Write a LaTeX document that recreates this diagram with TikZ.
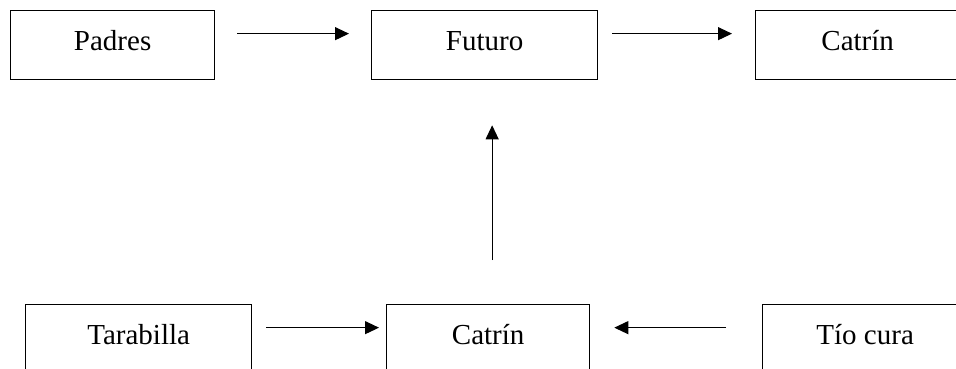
\documentclass[tikz,border=0pt]{standalone}
\usepackage{fontspec}
\setmainfont{Liberation Serif}
\usetikzlibrary{arrows.meta,calc}

\tikzset{
  box/.style={draw, line width=1.3pt, rectangle, inner sep=0pt,
    minimum height=69pt, text height=20pt, text depth=9pt,
    font=\fontsize{29}{32}\selectfont, anchor=north west},
  arr/.style={line width=1.1pt, -{Triangle[length=14pt,width=13pt]}}
}

\begin{document}
\begin{tikzpicture}[x=1pt,y=-1pt]
  \useasboundingbox (0,0) rectangle (956,368);
  \clip (0,0) rectangle (956,368);

  % top row
  \node[box, minimum width=204pt] (padres) at (10,10) {Padres};
  \node[box, minimum width=226pt] (futuro) at (371,10) {Futuro};
  \node[box, minimum width=204pt] (catrinA) at (755,10) {Catrín};

  % bottom row
  \node[box, minimum width=226pt] (tarabilla) at (25,304) {Tarabilla};
  \node[box, minimum width=203pt] (catrinB) at (386,304) {Catrín};
  \node[box, minimum width=205pt] (tio) at (762,304) {Tío cura};

  % top connectors
  \draw[arr] ($(padres.east)+(22,-11.5)$) -- ($(futuro.west)+(-22,-11.5)$);
  \draw[arr] ($(futuro.east)+(14,-11.5)$) -- ($(catrinA.west)+(-23,-11.5)$);

  % bottom connectors
  \draw[arr] ($(tarabilla.east)+(14,-11.5)$) -- ($(catrinB.west)+(-7,-11.5)$);
  \draw[arr] ($(tio.west)+(-36,-11.5)$) -- ($(catrinB.east)+(24,-11.5)$);

  % upward connector
  \draw[arr] ($(catrinB.north)+(4,-44)$) -- ($(futuro.south)+(7.5,45)$);
\end{tikzpicture}
\end{document}
